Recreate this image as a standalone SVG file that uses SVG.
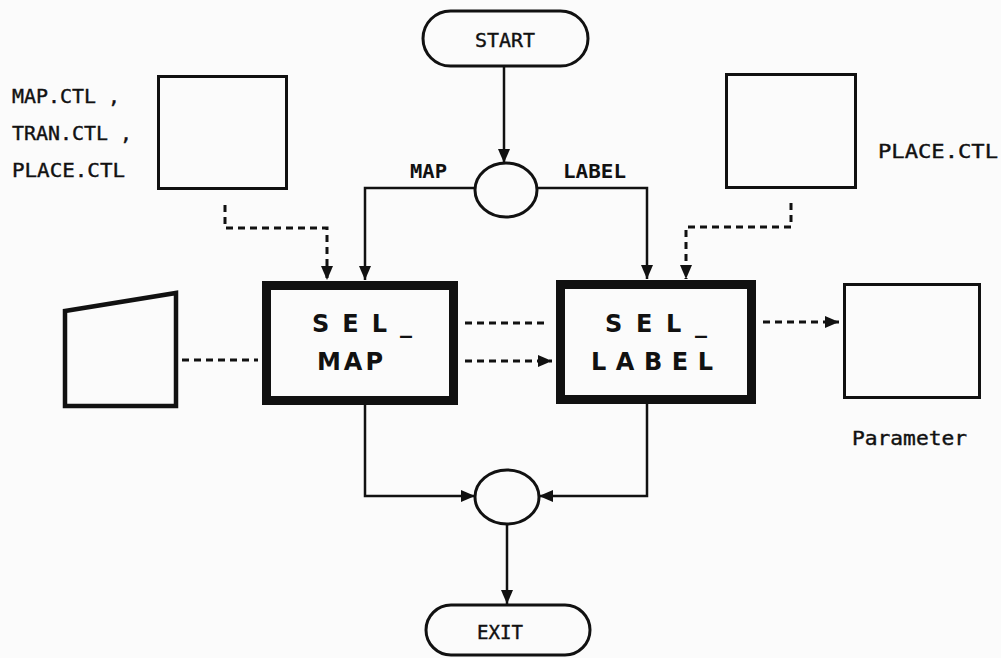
<svg xmlns="http://www.w3.org/2000/svg" width="1001" height="658" viewBox="0 0 1001 658">
<style>
.bg{fill:#fbfbfb}
.thin{fill:none;stroke:#111;stroke-width:3}
.thick{fill:none;stroke:#111;stroke-width:9}
.line{fill:none;stroke:#111;stroke-width:2.5}
.dash{fill:none;stroke:#111;stroke-width:3;stroke-dasharray:7 5}
.t{font-family:"DejaVu Sans Mono","Liberation Mono",monospace;font-size:19px;fill:#111;stroke:#111;stroke-width:0.4}
.b{font-weight:bold;stroke-width:0}
.big{font-family:"DejaVu Sans","Liberation Sans",sans-serif;font-size:24px;fill:#111;font-weight:bold}
</style>
<defs>
<marker id="ah" markerUnits="userSpaceOnUse" markerWidth="16" markerHeight="14" refX="14" refY="6" orient="auto">
<path d="M0,0 L14,6 L0,12 z" fill="#111"/>
</marker>
</defs>
<rect class="bg" x="0" y="0" width="1001" height="658"/>

<g id="connectors">
<path class="line" d="M504,66 L504,163" marker-end="url(#ah)"/>
<path class="line" d="M475,188 L365,188 L365,280" marker-end="url(#ah)"/>
<path class="line" d="M538,188 L647,188 L647,279" marker-end="url(#ah)"/>
<path class="dash" d="M225,205 L225,228 L327,228 L327,280" marker-end="url(#ah)"/>
<path class="dash" d="M791,203 L791,227 L686,227 L686,279" marker-end="url(#ah)"/>
<path class="dash" d="M182,360 L258,360"/>
<path class="dash" d="M465,323 L548,323"/>
<path class="dash" d="M465,361 L552,361" marker-end="url(#ah)"/>
<path class="dash" d="M763,322 L839,322" marker-end="url(#ah)"/>
<path class="line" d="M365,405 L365,496 L475,496" marker-end="url(#ah)"/>
<path class="line" d="M647,404 L647,496 L539,496" marker-end="url(#ah)"/>
<path class="line" d="M507,524 L507,604" marker-end="url(#ah)"/>
<text class="t b" x="410" y="178" textLength="37" lengthAdjust="spacingAndGlyphs">MAP</text>
<text class="t b" x="563" y="178" textLength="63" lengthAdjust="spacingAndGlyphs">LABEL</text>
</g>

<g id="start">
<rect class="thin" x="423" y="11" width="165" height="55" rx="27.5"/>
<text class="t" x="475" y="47" textLength="60" lengthAdjust="spacingAndGlyphs">START</text>
</g>

<g id="branch">
<ellipse class="thin" cx="506" cy="190" rx="31" ry="27"/>
</g>

<g id="ctl-left">
<rect class="thin" x="158.5" y="76.5" width="128" height="112"/>
<text class="t" x="12" y="103" textLength="108" lengthAdjust="spacingAndGlyphs">MAP.CTL ,</text>
<text class="t" x="12" y="140" textLength="120" lengthAdjust="spacingAndGlyphs">TRAN.CTL ,</text>
<text class="t" x="12" y="177" textLength="113" lengthAdjust="spacingAndGlyphs">PLACE.CTL</text>
</g>

<g id="ctl-right">
<rect class="thin" x="726.5" y="74.5" width="129" height="113"/>
<text class="t" x="878" y="158" textLength="120" lengthAdjust="spacingAndGlyphs">PLACE.CTL</text>
</g>

<g id="input">
<polygon class="thin" style="stroke-width:4.5" points="65,311 176,293 176,406 65,406"/>
</g>

<g id="sel-map">
<rect class="thick" x="266.5" y="285.5" width="187" height="115"/>
<text class="big" x="312" y="332" textLength="100" lengthAdjust="spacing">SEL_</text>
<text class="big" x="317" y="370" textLength="66" lengthAdjust="spacing">MAP</text>
</g>

<g id="sel-label">
<rect class="thick" x="560.5" y="284.5" width="191" height="115"/>
<text class="big" x="605" y="332" textLength="102" lengthAdjust="spacing">SEL_</text>
<text class="big" x="591" y="370" textLength="122" lengthAdjust="spacing">LABEL</text>
</g>

<g id="parameter">
<rect class="thin" x="844.5" y="284.5" width="135" height="113"/>
<text class="t" x="852" y="445" textLength="115" lengthAdjust="spacingAndGlyphs">Parameter</text>
</g>

<g id="join">
<ellipse class="thin" cx="507" cy="497" rx="32" ry="27"/>
</g>

<g id="exit">
<rect class="thin" x="426" y="605" width="164" height="50" rx="25"/>
<text class="t" x="477" y="639" textLength="46" lengthAdjust="spacingAndGlyphs">EXIT</text>
</g>
</svg>
